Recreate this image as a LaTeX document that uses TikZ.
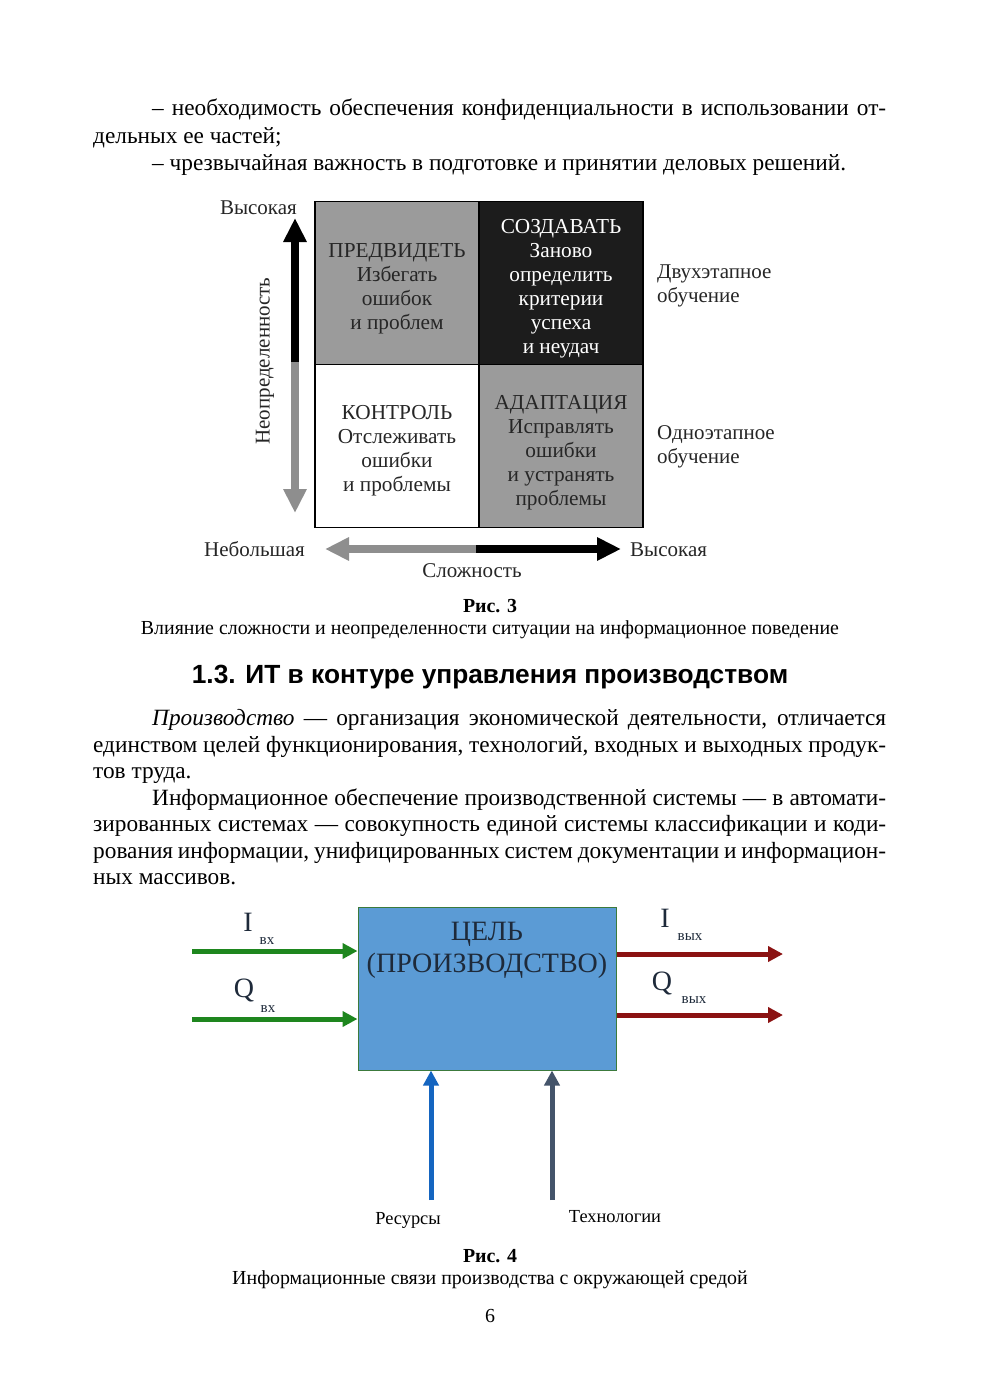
\documentclass[tikz,border=0pt]{standalone}
\usepackage{fontspec}
\setmainfont{Liberation Serif}
\newfontfamily\headsans{Liberation Sans}
\usetikzlibrary{arrows.meta,positioning}
\definecolor{pgray}{HTML}{9B9B9B}
\definecolor{pblack}{HTML}{1C1C1C}
\definecolor{ptext}{HTML}{262626}
\definecolor{agray}{HTML}{8E8E8E}
\definecolor{goalblue}{HTML}{5B9BD5}
\definecolor{goalrim}{HTML}{3C7A3C}
\definecolor{goalink}{HTML}{1E2A3A}
\definecolor{ingreen}{HTML}{1E861E}
\definecolor{outred}{HTML}{8B1212}
\definecolor{resblue}{HTML}{1565C0}
\definecolor{techslate}{HTML}{44546A}
\begin{document}
\begin{tikzpicture}[x=1pt,y=-1pt,every node/.style={inner sep=0pt},body/.style={anchor=base west,font=\fontsize{23.3}{27}\selectfont},cell/.style={draw=black,line width=1.5pt,minimum width=164pt,minimum height=163pt},celltxt/.style={align=center,font=\fontsize{21.3}{24}\selectfont,text=ptext},lbl/.style={font=\fontsize{21}{24}\selectfont,text=ptext,align=left},fat/.style={line width=8pt,-{Triangle[width=22pt,length=24pt]}},capt/.style={font=\fontsize{19.9}{23}\selectfont},flow/.style={line width=5pt,-{Triangle[width=15pt,length=15pt]}},sym/.style={font=\fontsize{28}{28}\selectfont,text=goalink},sub/.style={font=\fontsize{15}{15}\selectfont,text=goalink}]
\useasboundingbox (0,0) rectangle (980,1386);
\fill[white] (0,0) rectangle (980,1386);
% text above figure 3
\node[body] (t1) at (152,116) {\makebox[734pt][s]{– необходимость обеспечения конфиденциальности в использовании от-}};
\node[body] (t2) at (93,143) {дельных ее частей;};
\node[body] (t3) at (152,170) {– чрезвычайная важность в подготовке и принятии деловых решений.};
% figure 3: quadrants
\node[cell,fill=pgray] (foresee) at (397,283) {};
\node[cell,fill=pblack] (create) at (561,283) {};
\node[cell,fill=white] (control) at (397,446) {};
\node[cell,fill=pgray] (adapt) at (561,446) {};
\node[celltxt] (foreseetxt) at ([yshift=-6pt]foresee) {ПРЕДВИДЕТЬ\\Избегать\\ошибок\\и проблем};
\node[celltxt,text=white] (createtxt) at ([yshift=-6pt]create) {СОЗДАВАТЬ\\Заново\\определить\\критерии\\успеха\\и неудач};
\node[celltxt] (controltxt) at ([yshift=-5pt]control) {КОНТРОЛЬ\\Отслеживать\\ошибки\\и проблемы};
\node[celltxt] (adapttxt) at ([yshift=-7pt]adapt) {АДАПТАЦИЯ\\Исправлять\\ошибки\\и устранять\\проблемы};
% axes
\coordinate (umid) at (295,362); \coordinate (utop) at (295,218); \coordinate (ubot) at (295,513);
\coordinate (cmid) at (476,549); \coordinate (cleft) at (325,549); \coordinate (cright) at (621,549);
\draw[fat,black] (umid)--(utop); \draw[fat,agray] (umid)--(ubot);
\draw[fat,agray] (cmid)--(cleft); \draw[fat,black] (cmid)--(cright);
\node[lbl,anchor=east] (uhigh) at (297,208) {Высокая};
\node[lbl,rotate=90] (uname) at (265,361) {Неопределенность};
\node[lbl,anchor=east] (clow) at (305,549) {Небольшая};
\node[lbl,anchor=west] (chigh) at (630,550) {Высокая};
\node[lbl] (cname) at (472,571) {Сложность};
\node[lbl,anchor=west] (twostep) at (657,286) {Двухэтапное\\обучение};
\node[lbl,anchor=west] (onestep) at (657,447) {Одноэтапное\\обучение};
\node[capt] (fig3) at (490,606) {\textbf{Рис. 3}};
\node[capt] (fig3cap) at (490,630) {Влияние сложности и неопределенности ситуации на информационное поведение};
% section heading and text
\node[font=\headsans\bfseries\fontsize{26.3}{30}\selectfont] (head) at (490,677) {1.3. ИТ в контуре управления производством};
\node[body] (p1) at (152,725) {\makebox[734pt][s]{\textit{Производство} — организация экономической деятельности, отличается}};
\node[body] (p2) at (93,752) {\makebox[793pt][s]{единством целей функционирования, технологий, входных и выходных продук-}};
\node[body] (p3) at (93,778) {тов труда.};
\node[body] (p4) at (152,805) {\makebox[734pt][s]{Информационное обеспечение производственной системы — в автомати-}};
\node[body] (p5) at (93,831) {\makebox[793pt][s]{зированных системах — совокупность единой системы классификации и коди-}};
\node[body] (p6) at (93,858) {\makebox[793pt][s]{рования информации, унифицированных систем документации и информацион-}};
\node[body] (p7) at (93,884) {ных массивов.};
% figure 4
\node[draw=goalrim,line width=1pt,fill=goalblue,minimum width=258pt,minimum height=163pt] (goal) at (487,988.5) {};
\node[font=\fontsize{28}{32}\selectfont,text=goalink,align=center,below=15pt of goal.north] (goaltxt) {ЦЕЛЬ\\(ПРОИЗВОДСТВО)};
\coordinate (iin) at (192,951); \coordinate (qin) at (192,1019);
\coordinate (iout) at (783,954); \coordinate (qout) at (783,1015);
\coordinate (res) at (431,1200); \coordinate (tech) at (552,1200);
\draw[flow,ingreen] (iin)--(goal.west |- iin);
\draw[flow,ingreen] (qin)--(goal.west |- qin);
\draw[flow,outred] (goal.east |- iout)--(iout);
\draw[flow,outred] (goal.east |- qout)--(qout);
\draw[flow,resblue] (res)--(goal.south -| res);
\draw[flow,techslate] (tech)--(goal.south -| tech);
\node[sym] (iinl) at (248,922) {I}; \node[sub] (iins) at (267,941) {вх};
\node[sym] (qinl) at (244,990) {Q}; \node[sub] (qins) at (268,1009) {вх};
\node[sym] (ioutl) at (665,918) {I}; \node[sub] (iouts) at (690,937) {вых};
\node[sym] (qoutl) at (662,983) {Q}; \node[sub] (qouts) at (694,1000) {вых};
\node[font=\fontsize{18.4}{20}\selectfont] (resl) at (408,1220) {Ресурсы};
\node[font=\fontsize{18.4}{20}\selectfont] (techl) at (615,1217) {Технологии};
\node[capt] (fig4) at (490,1256) {\textbf{Рис. 4}};
\node[capt] (fig4cap) at (490,1280) {Информационные связи производства с окружающей средой};
\node[capt] (pageno) at (490,1316) {6};
\end{tikzpicture}
\end{document}
